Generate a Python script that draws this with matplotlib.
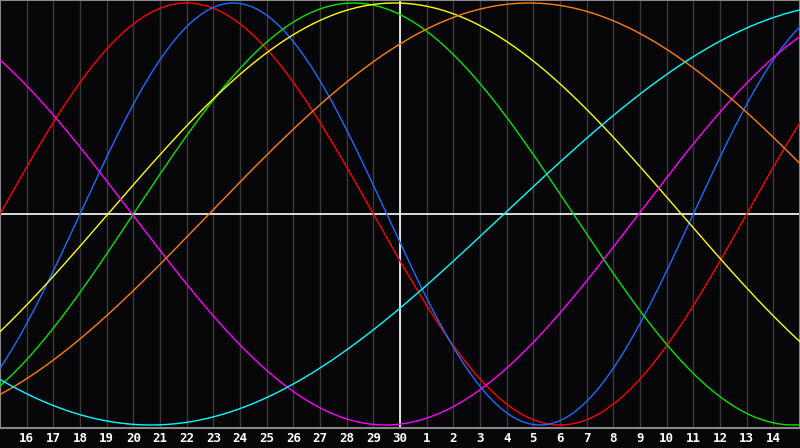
import numpy as np
import matplotlib
matplotlib.use("Agg")
import matplotlib.pyplot as plt

# day labels under each grid line (left edge = day 15 of previous month)
day_labels = [str(d) for d in range(16, 31)] + [str(d) for d in range(1, 15)]
today_idx = 15  # grid line of "30"

# cycles: length in days, day of rising zero crossing
cycle_colors = ["#ff0000", "#1a6cff", "#00e600", "#ffff00", "#ff00ff", "#ff8000", "#00ffff"]
cycle_periods = [28, 23, 33, 43, 38, 48, 53]
cycle_zero_day = [0.0, 3.0, 5.0, 4.05, -14.05, 7.84, 18.9]

bg = "#060609"
fig = plt.figure(figsize=(8, 4.48), dpi=100, facecolor=bg)
ax = fig.add_axes([0, 20 / 448, 1, 428 / 448], facecolor=bg)

ax.set_xlim(0, 30)
ax.set_ylim(-1.0142, 1.0142)

# day grid
for k in range(1, 30):
    ax.axvline(k, color="#3a3a3a", lw=1.0, zorder=1)

t = np.linspace(0, 30, 1200)
for col, per, z in zip(cycle_colors, cycle_periods, cycle_zero_day):
    ax.plot(t, np.sin(2 * np.pi * (t - z) / per), color=col, lw=1.0, zorder=3)

ax.axhline(0, color="white", lw=1.2, zorder=2)
ax.axvline(today_idx, color="white", lw=1.2, zorder=2)

for s in ax.spines.values():
    s.set_color("#888888")
    s.set_linewidth(1.5)
ax.set_xticks([])
ax.set_yticks([])

# labels below plot
for k, lab in enumerate(day_labels, start=1):
    fig.text(k / 30, 10 / 448, lab, color="white", ha="center", va="center",
             fontsize=9, fontweight="bold", family="DejaVu Sans Mono")

fig.savefig("out.png", dpi=100, facecolor=bg)
